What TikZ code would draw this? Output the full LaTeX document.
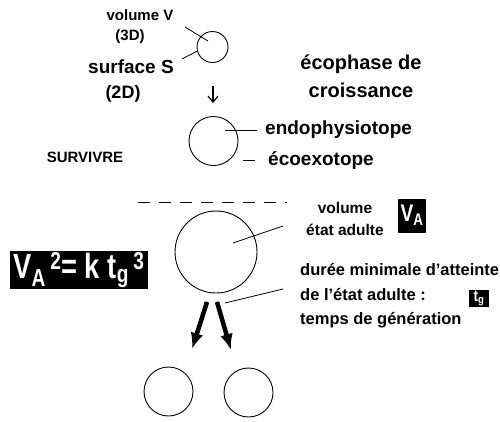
\documentclass[tikz,border=0pt]{standalone}
\usepackage{fontspec}
\setmainfont{Liberation Sans}
\usepackage{tikz}
\usetikzlibrary{shapes,arrows,arrows.meta,positioning,fit,backgrounds}
\tikzstyle{cell} = [circle, draw=black, line width=0.9pt, inner sep=0pt]
\tikzstyle{lbl} = [text=black, inner sep=0pt, font=\bfseries\fontsize{19}{22}\selectfont]
\tikzstyle{smalllbl} = [text=black, inner sep=0pt, font=\bfseries\fontsize{15}{18}\selectfont]
\tikzstyle{blackbox} = [fill=black, text=white, inner sep=0pt, font=\bfseries]
\tikzstyle{pointer} = [draw, line width=0.8pt]
\tikzstyle{sep} = [draw, line width=1pt, dash pattern=on 12pt off 9pt]
\tikzstyle{tedge} = [draw, line width=1.2pt, -{Straight Barb[length=6pt,width=10pt]}]
\tikzstyle{bigedge} = [draw, line width=4.5pt, -{Latex[length=16pt,width=13pt]}]

\begin{document}
\begin{tikzpicture}[x=1pt, y=-1pt]
\useasboundingbox (0,0) rectangle (500,421);

% cells =============================

\node[cell, minimum size=31pt] (young) at (212.5,47) {};
\node[cell, minimum size=49pt] (grow) at (213.5,141) {};
\node[cell, minimum size=82pt] (adult) at (216,252) {};
\node[cell, minimum size=49pt] (son1) at (168.5,391.5) {};
\node[cell, minimum size=49pt] (son2) at (248.5,392.5) {};

% labels
\node[smalllbl] (vol) at (140,15) {volume V};
\node[smalllbl] (d3) at (130,37) {(3D)};
\node[lbl] (surf) at (131,67) {surface S};
\node[lbl, font=\bfseries\fontsize{18}{22}\selectfont] (d2) at (123,94) {(2D)};
\node[lbl, font=\bfseries\fontsize{20}{28}\selectfont, align=center] (phase) at (361,76) {écophase de\\croissance};
\node[lbl, anchor=west] (endo) at (265,130) {endophysiotope};
\node[lbl, anchor=west] (eco) at (268,160) {écoexotope};
\node[smalllbl] (surv) at (85,157) {SURVIVRE};
\node[smalllbl, font=\bfseries\fontsize{15.5}{22}\selectfont, align=center] (voladult) at (345,219) {volume\\état adulte};
\node[lbl, font=\bfseries\fontsize{16.5}{24.5}\selectfont, align=left, anchor=west] (duree) at (300,296) {durée minimale d'atteinte\\de l'état adulte :\\temps de génération};

% black boxes
\node[blackbox, minimum width=138pt, minimum height=38pt] (formula) at (79,270)
  {\scalebox{0.78}[1]{\fontsize{35}{35}\selectfont V\textsubscript{A}\,\textsuperscript{2}= k t\textsubscript{g}\,\textsuperscript{3}}};
\node[blackbox, minimum width=28pt, minimum height=34pt] (va) at (412,215.5)
  {\scalebox{0.8}[1]{\fontsize{24}{24}\selectfont V\textsubscript{A}}};
\node[blackbox, minimum width=20pt, minimum height=17pt] (tg) at (479,298.5)
  {\scalebox{0.85}[1]{\fontsize{16}{16}\selectfont t\textsubscript{g}}};

% anchors for pointers
\coordinate (vin) at (208,41);
\coordinate (vout) at (185,27);
\coordinate (sout) at (182,59);
\coordinate (ein) at (225,130);
\coordinate (eout) at (257,130);
\coordinate (xin) at (243,160);
\coordinate (xout) at (255,160);
\coordinate (ain) at (233,243);
\coordinate (aout) at (283,226);
\coordinate (tin) at (225,303);
\coordinate (tout) at (283,289);
\coordinate (sepL) at (138,202);
\coordinate (sepR) at (287,202);
\coordinate (g0) at (213,86);
\coordinate (g1) at (213,103);
\coordinate (al0) at (207,302);
\coordinate (al1) at (192,349);
\coordinate (ar0) at (217,302);
\coordinate (ar1) at (231,350);

%edges
\path[pointer] (vout) -- (vin);
\path[pointer] (sout) -- (young.195);
\path[pointer] (ein) -- (eout);
\path[pointer] (xin) -- (xout);
\path[pointer] (ain) -- (aout);
\path[pointer] (tin) -- (tout);
\path[sep] (sepL) -- (sepR);

\path[tedge] (g0) -- (g1);
\path[bigedge] (al0) -- (al1);
\path[bigedge] (ar0) -- (ar1);

\end{tikzpicture}
\end{document}
